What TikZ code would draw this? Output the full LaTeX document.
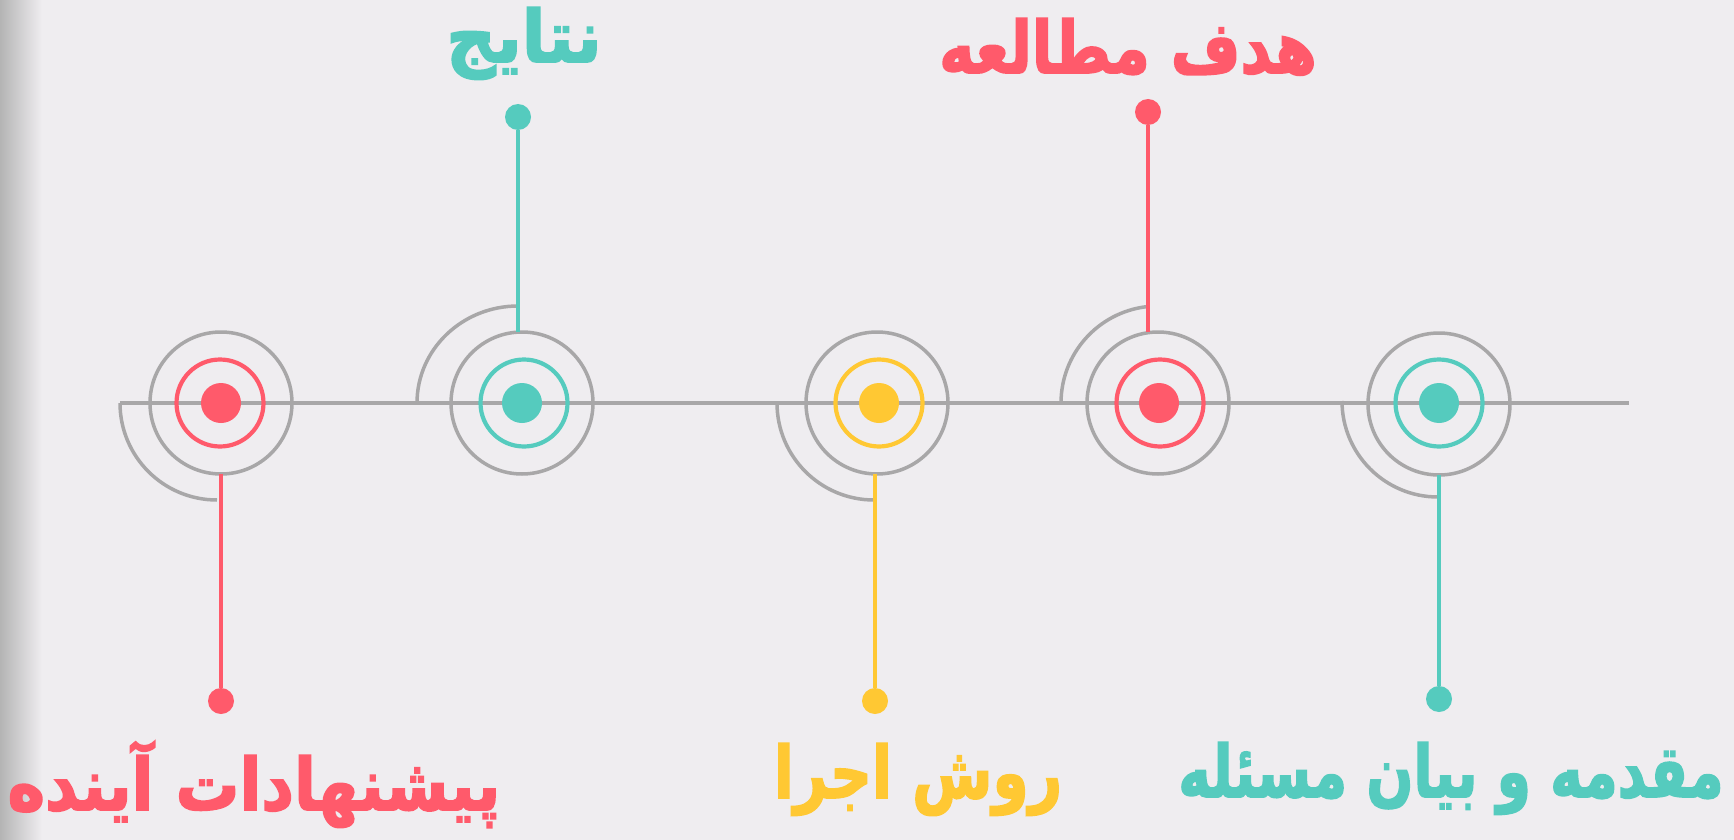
\documentclass[tikz,border=0pt]{standalone}
\usepackage{graphicx}
\usepackage{fontspec}
\TeXXeTstate=1
\newfontfamily\fa[Script=Arabic, BoldFeatures={FakeBold=2.5}]{DejaVu Sans}
\definecolor{bgc}{HTML}{EFEDF0}
\definecolor{edgec}{HTML}{B4B4B4}
\definecolor{grayc}{HTML}{A8A7A8}
\definecolor{redc}{HTML}{FF5A6B}
\definecolor{tealc}{HTML}{55CBBE}
\definecolor{yelc}{HTML}{FFC833}
\tikzset{
  outerring/.style={circle, draw=grayc, line width=3.5pt, inner sep=0pt, outer sep=0pt, minimum size=142pt},
  innerring/.style={circle, draw=#1, line width=4.2pt, inner sep=0pt, outer sep=0pt, minimum size=87pt},
  bigdot/.style={circle, fill=#1, inner sep=0pt, outer sep=0pt, minimum size=40pt},
  enddot/.style={circle, fill=#1, inner sep=0pt, outer sep=0pt, minimum size=26pt},
  stem/.style={draw=#1, line width=3.3pt},
  grayline/.style={draw=grayc, line width=3.5pt},
  label/.style={text=#1, font=\fa\bfseries\fontsize{60}{72}\selectfont, inner sep=0pt, anchor=base}
}
\begin{document}
\begin{tikzpicture}[x=1pt,y=-1pt]
\useasboundingbox (0,0) rectangle (1734,840);
\fill[bgc] (0,0) rectangle (1734,840);
\shade[left color=edgec, right color=bgc] (0,0) rectangle (42,840);
% main line
\coordinate (lineL) at (120,403);
\coordinate (lineR) at (1629,403);
\draw[grayline] (lineL) -- (lineR);
% quarter arcs
\draw[grayline] (120,403) arc[start angle=180, end angle=270, radius=97pt];
\draw[grayline] (417,403) arc[start angle=180, end angle=90, x radius=101pt, y radius=97pt];
\draw[grayline] (777,403) arc[start angle=180, end angle=270, radius=97pt];
\draw[grayline] (1061,403) arc[start angle=180, end angle=97, radius=97pt];
\draw[grayline] (1342,401) arc[start angle=180, end angle=270, radius=96pt];
% targets
\node[outerring] (c1) at (221,403) {};
\node[innerring=redc] (r1) at (220,403) {};
\node[bigdot=redc] (m1) at (221,403) {};
\node[outerring] (c2) at (522,403) {};
\node[innerring=tealc] (r2) at (524,403) {};
\node[bigdot=tealc] (m2) at (522,403) {};
\node[outerring] (c3) at (877,403) {};
\node[innerring=yelc] (r3) at (879,403) {};
\node[bigdot=yelc] (m3) at (879,403) {};
\node[outerring] (c4) at (1158,403) {};
\node[innerring=redc] (r4) at (1160,403) {};
\node[bigdot=redc] (m4) at (1159,403) {};
\node[outerring] (c5) at (1439,404) {};
\node[innerring=tealc] (r5) at (1439,403) {};
\node[bigdot=tealc] (m5) at (1439,403) {};
% end dots
\node[enddot=redc] (d1) at (221,701) {};
\node[enddot=tealc] (d2) at (518,117) {};
\node[enddot=yelc] (d3) at (875,701) {};
\node[enddot=redc] (d4) at (1148,112) {};
\node[enddot=tealc] (d5) at (1439,699) {};
% stems
\draw[stem=redc] (d1) -- (d1 |- c1.south);
\draw[stem=tealc] (d2) -- (d2 |- c2.north);
\draw[stem=yelc] (d3) -- (d3 |- c3.south);
\draw[stem=redc] (d4) -- (d4 |- c4.north);
\draw[stem=tealc] (d5) -- (d5 |- c5.south);
% labels
\node[label=tealc] (t2) at (524,62) {\scalebox{1.15}[1.2]{\beginR نتایج\endR}};
\node[label=redc] (t4) at (1128,73) {\scalebox{1.0}[1.2]{\beginR هدف مطالعه\endR}};
\node[label=redc] (t1) at (254,810) {\scalebox{1.06}[1.2]{\beginR پیشنهادات آینده\endR}};
\node[label=yelc] (t3) at (918,798) {\scalebox{0.97}[1.2]{\beginR روش اجرا\endR}};
\node[label=tealc] (t5) at (1451,797) {\scalebox{0.92}[1.2]{\beginR مقدمه و بیان مسئله\endR}};
\end{tikzpicture}
\end{document}
